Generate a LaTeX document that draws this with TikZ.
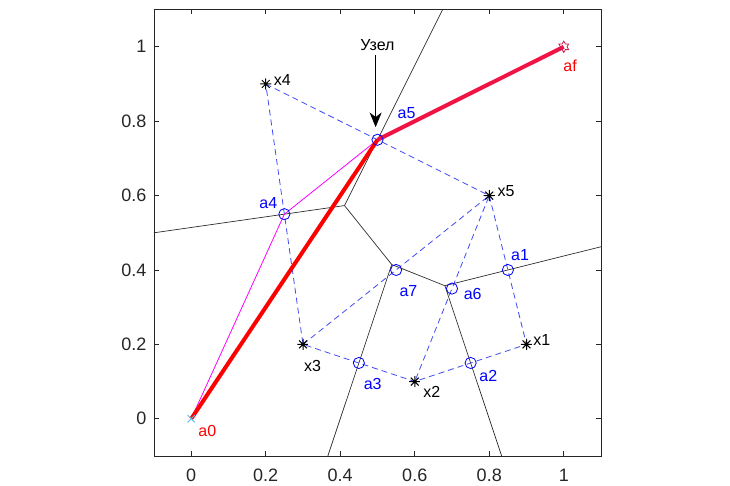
\documentclass[tikz,border=0pt]{standalone}
\usepackage{fontspec}
\setmainfont{Liberation Sans}
\usetikzlibrary{arrows.meta,shapes.geometric}
\definecolor{axgray}{rgb}{0.15,0.15,0.15}
\definecolor{delblue}{rgb}{0.25,0.3,0.95}
\definecolor{xcyan}{RGB}{90,190,235}
\definecolor{hexred}{RGB}{200,30,80}
\definecolor{pathred}{RGB}{255,0,0}
\definecolor{pathred2}{RGB}{240,20,70}
\definecolor{pathmag}{RGB}{255,0,255}

\begin{document}
\begin{tikzpicture}[
x=279.4pt, y=279pt,
vor/.style={draw=axgray, line width=0.5pt},
del/.style={draw=delblue, line width=0.6pt, dash pattern=on 4.5pt off 3pt},
mid/.style={circle, draw=blue, line width=0.6pt, minimum size=8.4pt, inner sep=0pt},
site/.style={circle, inner sep=0pt, minimum size=8.5pt, path picture={
  \draw[line width=0.75pt] (path picture bounding box.north) -- (path picture bounding box.south)
    (path picture bounding box.east) -- (path picture bounding box.west)
    (path picture bounding box.north west) -- (path picture bounding box.south east)
    (path picture bounding box.north east) -- (path picture bounding box.south west);}},
cross/.style={circle, inner sep=0pt, minimum size=8pt, path picture={
  \draw[xcyan, line width=0.7pt] (path picture bounding box.north west) -- (path picture bounding box.south east)
    (path picture bounding box.north east) -- (path picture bounding box.south west);}},
hexa/.style={star, star points=6, star point ratio=1.73, draw=hexred, line width=0.6pt, minimum size=8.5pt, inner sep=0pt},
lab/.style={font=\fontsize{12}{14}\selectfont, inner sep=0pt},
tick/.style={font=\fontsize{13.5}{16}\selectfont, text=axgray}
]
\useasboundingbox (-0.5134,-0.1806) rectangle (1.4463,1.1258);

% axes box and ticks
\draw[axgray, line width=0.5pt] (-0.1,-0.1) rectangle (1.1,1.1);
\foreach \t/\s in {0/0,0.2/0.2,0.4/0.4,0.6/0.6,0.8/0.8,1/1} {
  \draw[axgray, line width=0.5pt] (\t,-0.1) -- ++(0,3.5pt) (\t,1.1) -- ++(0,-3.5pt);
  \draw[axgray, line width=0.5pt] (-0.1,\t) -- ++(3.5pt,0) (1.1,\t) -- ++(-3.5pt,0);
  \node[tick] (tx\s) at (\t,-0.151) {\s};
  \node[tick, anchor=east] (ty\s) at (-0.108,\t) {\s};
}

% points
\coordinate (x1) at (0.9,0.2);
\coordinate (x2) at (0.6,0.1);
\coordinate (x3) at (0.3,0.2);
\coordinate (x4) at (0.2,0.9);
\coordinate (x5) at (0.8,0.6);
\coordinate (a0) at (0,0);
\coordinate (af) at (1,1);
\coordinate (a1) at (0.85,0.4);
\coordinate (a2) at (0.75,0.15);
\coordinate (a3) at (0.45,0.15);
\coordinate (a4) at (0.25,0.55);
\coordinate (a5) at (0.5,0.75);
\coordinate (a6) at (0.7,0.35);
\coordinate (a7) at (0.55,0.4);

% voronoi
\coordinate (v1) at (0.4115,0.5731);
\coordinate (v2) at (0.5382,0.4147);
\coordinate (v3) at (0.6808,0.3577);
\coordinate (eL) at (-0.1,0.5);
\coordinate (eT) at (0.675,1.1);
\coordinate (eB1) at (0.3667,-0.1);
\coordinate (eB2) at (0.8333,-0.1);
\coordinate (eR) at (1.1,0.4625);
\draw[vor] (eL) -- (v1) -- (eT);
\draw[vor] (v1) -- (v2) -- (v3) -- (eR);
\draw[vor] (v2) -- (eB1);
\draw[vor] (v3) -- (eB2);

% delaunay
\draw[del] (x4) -- (x5) -- (x1) -- (x2) -- (x3) -- (x4);
\draw[del] (x3) -- (x5) -- (x2);

% paths
\draw[pathmag, line width=0.6pt] (a0) -- (a4) -- (a5);
\draw[pathred, line width=3pt] (a0) -- (a5);
\draw[pathred2, line width=3pt] (a5) -- (af);

% markers
\foreach \p in {x1,x2,x3,x4,x5} \node[site] (m\p) at (\p) {};
\foreach \p in {a1,a2,a3,a4,a5,a6,a7} \node[mid] (m\p) at (\p) {};
\node[cross] (ma0) at (a0) {};
\node[hexa] (maf) at (af) {};

% labels
\node[lab, anchor=west] (lx1) at (0.918,0.212) {x1};
\node[lab] (lx2) at (0.6455,0.073) {x2};
\node[lab] (lx3) at (0.326,0.142) {x3};
\node[lab] (lx4) at (0.2445,0.911) {x4};
\node[lab] (lx5) at (0.845,0.613) {x5};
\node[lab, text=red] (la0) at (0.043,-0.032) {a0};
\node[lab, text=red] (laf) at (1.017,0.949) {af};
\node[lab, text=blue] (la1) at (0.8826,0.44) {a1};
\node[lab, text=blue] (la2) at (0.7975,0.115) {a2};
\node[lab, text=blue] (la3) at (0.487,0.093) {a3};
\node[lab, text=blue] (la4) at (0.207,0.581) {a4};
\node[lab, text=blue] (la5) at (0.578,0.821) {a5};
\node[lab, text=blue] (la6) at (0.7555,0.3355) {a6};
\node[lab, text=blue] (la7) at (0.583,0.342) {a7};

% annotation
\node[lab, inner sep=3pt] (uzel) at (0.5,1.005) {Узел};
\coordinate (tip) at (0.495,0.784);
\draw[-{Stealth[length=11pt, width=9pt, inset=3.5pt]}, line width=0.5pt] (uzel.south -| tip) -- (tip);
\end{tikzpicture}
\end{document}
